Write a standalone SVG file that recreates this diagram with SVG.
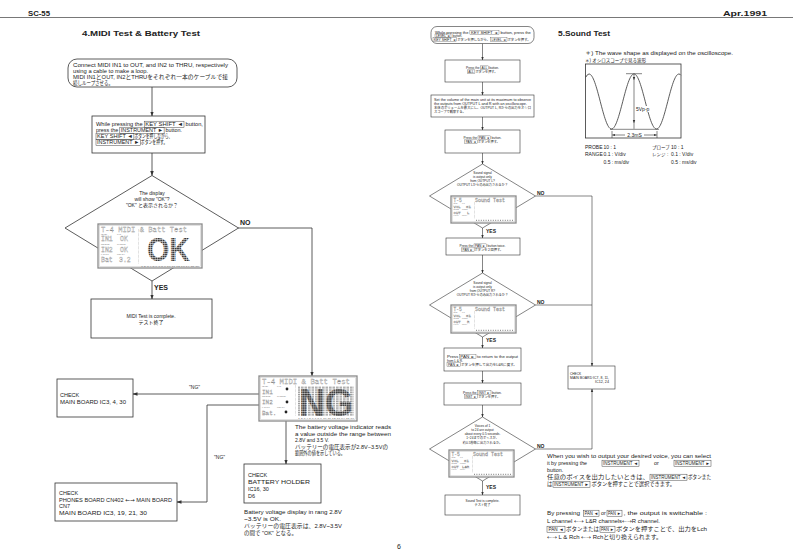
<svg xmlns="http://www.w3.org/2000/svg" width="793" height="560" viewBox="0 0 793 560">
<defs>
<style>
text{font-family:"Liberation Sans","Noto Sans CJK JP",sans-serif;fill:#222}
.f5{font-size:5px}
.f53{font-size:5.3px}
.f54{font-size:5.4px}
.f55{font-size:5.5px}
.f45{font-size:4.5px}
.f3{font-size:3.2px}
.b{font-weight:bold}
.c{text-anchor:middle}
.ar{font-family:"DejaVu Sans",sans-serif}
.box{fill:#fff;stroke:#333;stroke-width:0.8}
.boxS{fill:#fff;stroke:#333;stroke-width:0.6}
.bt{fill:none;stroke:#333;stroke-width:0.45}
.bts{fill:none;stroke:#333;stroke-width:0.3}
.ln{fill:none;stroke:#333;stroke-width:0.8}
.lnS{fill:none;stroke:#333;stroke-width:0.6}
.lcdo{fill:#fff;stroke:#8a8a8a;stroke-width:1.3}
.lcdi{fill:none;stroke:#c4c4c4;stroke-width:0.5}
.lt{font-family:"Liberation Mono",monospace;fill:#fff;stroke:#8a8a8a;stroke-width:0.28}
.ls{fill:#777}
.dot{fill:none;stroke:#888;stroke-width:0.5;stroke-dasharray:0.5 0.8}
.big{font-weight:bold;fill:url(#blk)}
.bigd{font-weight:bold;fill:url(#blkd)}
</style>
<marker id="ah" viewBox="0 0 10 10" refX="9" refY="5" markerWidth="5" markerHeight="5" markerUnits="userSpaceOnUse" orient="auto"><path d="M0,1.5 L10,5 L0,8.5 z" fill="#333"/></marker>
<marker id="as" viewBox="0 0 10 10" refX="9" refY="5" markerWidth="3.5" markerHeight="3.5" markerUnits="userSpaceOnUse" orient="auto"><path d="M0,1.5 L10,5 L0,8.5 z" fill="#333"/></marker>
<pattern id="blk" width="2.4" height="2" patternUnits="userSpaceOnUse"><rect width="2" height="1.5" fill="#3a3a3a"/></pattern>
<pattern id="blkd" width="2.2" height="1.8" patternUnits="userSpaceOnUse"><rect width="1.8" height="1.3" fill="#333"/></pattern>
<pattern id="blkl" width="3.5" height="1.8" patternUnits="userSpaceOnUse"><rect width="2.6" height="1.1" fill="#999"/></pattern>
</defs>
<rect width="793" height="560" fill="#fff"/>

<!-- header -->
<g id="header">
<text x="28" y="15.5" font-size="7" class="b" textLength="22" lengthAdjust="spacingAndGlyphs">SC-55</text>
<text x="723" y="15.5" font-size="7" class="b" textLength="44" lengthAdjust="spacingAndGlyphs">Apr.1991</text>
<line x1="0" y1="17.5" x2="793" y2="17.5" stroke="#555" stroke-width="0.8"/>
<text x="82" y="36" font-size="7.5" class="b" textLength="118" lengthAdjust="spacingAndGlyphs">4.MIDI  Test  &amp;  Battery  Test</text>
<text x="558" y="36" font-size="7.5" class="b" textLength="52" lengthAdjust="spacingAndGlyphs">5.Sound  Test</text>
<text x="397" y="549" font-size="7">6</text>
</g>

<!-- ===== connectors ===== -->
<g id="connectors">
<path class="ln" d="M152,87 V116" marker-end="url(#ah)"/>
<path class="ln" d="M152,153 V175.5" marker-end="url(#ah)"/>
<path class="ln" d="M152,281 V299" marker-end="url(#ah)"/>
<path class="ln" d="M238,228 H312 V376" marker-end="url(#ah)"/>
<path class="ln" d="M287,389 L279,394 H133" marker-end="url(#ah)"/>
<path class="ln" d="M287,402 L280,405 H207 V502 H177" marker-end="url(#ah)"/>
<path class="ln" d="M286,412 V464" marker-end="url(#ah)"/>
<path class="lnS" d="M482.5,43.5 V60" marker-end="url(#as)"/>
<path class="lnS" d="M482.5,82 V95" marker-end="url(#as)"/>
<path class="lnS" d="M482.5,117 V130" marker-end="url(#as)"/>
<path class="lnS" d="M482.5,153 V164" marker-end="url(#as)"/>
<path class="lnS" d="M482.5,228 V238" marker-end="url(#as)"/>
<path class="lnS" d="M482.5,255 V273" marker-end="url(#as)"/>
<path class="lnS" d="M482.5,337 V348" marker-end="url(#as)"/>
<path class="lnS" d="M482.5,371 V383" marker-end="url(#as)"/>
<path class="lnS" d="M482.5,405 V417" marker-end="url(#as)"/>
<path class="lnS" d="M482.5,481 V495" marker-end="url(#as)"/>
<path class="lnS" d="M535.5,196 H592 V366" marker-end="url(#as)"/>
<path class="lnS" d="M535.5,305 H592"/>
<path class="lnS" d="M535.5,449 H592 V389" marker-end="url(#as)"/>
<text x="240" y="225" font-size="7" class="b">NO</text>
<text x="154" y="290" font-size="7" class="b">YES</text>
<text x="189" y="389" class="f5">"NG"</text>
<text x="214" y="459" class="f5">"NG"</text>
<text x="537" y="194.5" font-size="5" class="b">NO</text>
<text x="486" y="232.5" font-size="5" class="b">YES</text>
<text x="537" y="303.5" font-size="5" class="b">NO</text>
<text x="486" y="341.5" font-size="5" class="b">YES</text>
<text x="537" y="447.5" font-size="5" class="b">NO</text>
<text x="486" y="488.5" font-size="5" class="b">YES</text>
</g>

<!-- ===== left page ===== -->
<g id="connect-loop">
<rect class="box" x="68" y="59" width="169" height="28" rx="9"/>
<text class="f53" x="73" y="67" textLength="155" lengthAdjust="spacingAndGlyphs">Connect MIDI IN1 to OUT, and IN2 to THRU, respectively</text>
<text class="f53" x="73" y="73" textLength="75" lengthAdjust="spacingAndGlyphs">using a cable to make a loop.</text>
<text class="f53" x="73" y="79" textLength="155" lengthAdjust="spacingAndGlyphs">MIDI IN1とOUT, IN2とTHRUをそれぞれ一本のケーブルで接</text>
<text class="f53" x="73" y="85" textLength="40" lengthAdjust="spacingAndGlyphs">続しループさせる。</text>
</g>

<g id="press-keyshift">
<rect class="box" x="92" y="116" width="113" height="37"/>
<text class="f54" x="96" y="126" textLength="46.7" lengthAdjust="spacingAndGlyphs">While pressing the</text>
<rect class="bt" x="144.2" y="121.2" width="39.8" height="6.2"/>
<text class="f54" x="145.2" y="126" textLength="37.8" lengthAdjust="spacingAndGlyphs">KEY SHIFT ◄</text>
<text class="f54" x="185.5" y="126" textLength="17.4" lengthAdjust="spacingAndGlyphs">button,</text>
<text class="f54" x="96" y="132">press the</text>
<rect class="bt" x="119.8" y="127.2" width="44.3" height="6.2"/>
<text class="f54" x="120.8" y="132" textLength="42.3" lengthAdjust="spacingAndGlyphs">INSTRUMENT ►</text>
<text class="f54" x="165.6" y="132">button.</text>
<rect class="bt" x="96" y="133.2" width="37.9" height="6.2"/>
<text class="f54" x="97" y="138" textLength="35.9" lengthAdjust="spacingAndGlyphs">KEY SHIFT ◄</text>
<text class="f54" x="134.4" y="138" textLength="38" lengthAdjust="spacingAndGlyphs">ボタンを押しながら、</text>
<rect class="bt" x="96" y="139.2" width="44.3" height="6.2"/>
<text class="f54" x="97" y="144" textLength="42.3" lengthAdjust="spacingAndGlyphs">INSTRUMENT ►</text>
<text class="f54" x="140.8" y="144" textLength="26.6" lengthAdjust="spacingAndGlyphs">ボタンを押す。</text>
</g>

<g id="decision-ok">
<polygon class="box" points="152,175.5 238.5,228 152,281 65,228"/>
<text class="f5 c" x="152" y="195">The display</text>
<text class="f5 c" x="152" y="201">will show  "OK"?</text>
<text class="f5 c" x="152" y="207">"OK" と表示されるか？</text>
<g id="lcd-ok" transform="translate(98,224)">
<rect class="lcdo" width="104" height="44"/>
<rect class="lcdi" x="1.6" y="1.6" width="100.8" height="40.8"/>
<text class="lt" x="3" y="8" font-size="7.5" textLength="86" lengthAdjust="spacingAndGlyphs">T-4 MIDI &amp; Batt Test</text>
<text class="ls" font-size="2" x="3" y="10.8">LEVEL</text><text class="ls" font-size="2" x="19" y="10.8">PAN</text>
<text class="lt" font-size="6.5" x="3" y="17">IN1</text><text class="lt" font-size="6.5" x="22" y="17">OK</text>
<text class="ls" font-size="2" x="3" y="20.5">REVERB</text><text class="ls" font-size="2" x="19" y="20.5">CHORUS</text>
<text class="lt" font-size="6.5" x="3" y="27.5">IN2</text><text class="lt" font-size="6.5" x="22" y="27.5">OK</text>
<text class="ls" font-size="2" x="3" y="31">K SHIFT</text><text class="ls" font-size="2" x="19" y="31">MIDI CH</text>
<text class="lt" font-size="6.5" x="3" y="38">Bat</text><text class="lt" font-size="6.5" x="21" y="38">3.2</text>
<line class="dot" x1="40.5" y1="5" x2="40.5" y2="40"/>
<text class="ls" font-size="2" x="43" y="42.6" textLength="58" lengthAdjust="spacingAndGlyphs">1 2 3 4 5 6 7 8 9 10 11 12 13 14 15 16</text>
<text class="big" x="49" y="37" font-size="33" textLength="43" lengthAdjust="spacingAndGlyphs">OK</text>
</g>
</g>

<g id="midi-complete">
<rect class="box" x="91" y="299" width="121" height="39"/>
<text class="f5 c" x="151" y="318">MIDI Test is complete.</text>
<text class="f5 c" x="151" y="324">テスト終了</text>
</g>

<g id="lcd-ng" transform="translate(259,376)">
<rect class="lcdo" width="98" height="45"/>
<rect class="lcdi" x="1.6" y="1.6" width="94.8" height="41.8"/>
<text class="lt" x="3" y="8" font-size="7" textLength="88" lengthAdjust="spacingAndGlyphs">T-4 MIDI &amp; Batt Test</text>
<text class="ls" font-size="2" x="3" y="11">LEVEL</text><text class="ls" font-size="2" x="18" y="11">PAN</text>
<text class="lt" font-size="6" x="3" y="17.5">IN1</text>
<text class="ls" font-size="2" x="3" y="21">REVERB</text><text class="ls" font-size="2" x="18" y="21">CHORUS</text>
<text class="lt" font-size="6" x="3" y="28">IN2</text>
<text class="ls" font-size="2" x="3" y="31.5">K SHIFT</text><text class="ls" font-size="2" x="18" y="31.5">MIDI CH</text>
<text class="lt" font-size="6" x="3" y="38.5">Bat.</text>
<line class="dot" x1="36.5" y1="9" x2="36.5" y2="40"/>
<rect x="39" y="10" width="56" height="30" fill="url(#blkl)"/>
<text class="bigd" x="40" y="39.5" font-size="38" textLength="54" lengthAdjust="spacingAndGlyphs">NG</text>
<text class="ls" font-size="2" x="39" y="43.2" textLength="56" lengthAdjust="spacingAndGlyphs">1 2 3 4 5 6 7 8 9 10 11 12 13 14 15 16</text>
<circle cx="28" cy="13" r="1.4" fill="#222"/>
<circle cx="28" cy="26" r="1.4" fill="#222"/>
<circle cx="27" cy="36" r="1.4" fill="#222"/>
</g>

<g id="check-main-ic3">
<rect class="box" x="57" y="379" width="76" height="38"/>
<text class="f55" x="60" y="397">CHECK</text>
<text class="f55" x="60" y="403.5" textLength="66" lengthAdjust="spacingAndGlyphs">MAIN BOARD IC3, 4, 30</text>
</g>

<g id="check-phones">
<rect class="box" x="55" y="483" width="122" height="38"/>
<text class="f55" x="59" y="495">CHECK</text>
<text class="f55" x="59" y="501.7" textLength="113" lengthAdjust="spacingAndGlyphs">PHONES BOARD CN402 <tspan class="ar">←→</tspan> MAIN BOARD</text>
<text class="f55" x="59" y="508.4">CN7</text>
<text class="f55" x="59" y="515" textLength="88" lengthAdjust="spacingAndGlyphs">MAIN BOARD IC3, 19, 21, 30</text>
</g>

<g id="check-battery">
<rect class="box" x="244" y="464" width="77" height="39"/>
<text class="f55" x="248" y="477">CHECK</text>
<text class="f55" x="248" y="484" textLength="62" lengthAdjust="spacingAndGlyphs">BATTERY HOLDER</text>
<text class="f55" x="248" y="491">IC16, 30</text>
<text class="f55" x="248" y="498">D6</text>
</g>

<g id="battery-notes">
<text class="f55" x="295" y="429" textLength="96" lengthAdjust="spacingAndGlyphs">The battery voltage indicator reads</text>
<text class="f55" x="295" y="435.5" textLength="96" lengthAdjust="spacingAndGlyphs">a value outside the range between</text>
<text class="f55" x="295" y="442" textLength="34" lengthAdjust="spacingAndGlyphs">2.8V and 3.5 V.</text>
<text class="f55" x="295" y="448.5" textLength="93" lengthAdjust="spacingAndGlyphs">バッテリーの電圧表示が2.8V−3.5Vの</text>
<text class="f55" x="295" y="455" textLength="50" lengthAdjust="spacingAndGlyphs">範囲外の値を示している。</text>
<text class="f55" x="244" y="514" textLength="98" lengthAdjust="spacingAndGlyphs">Battery voltage display in rang 2.8V</text>
<text class="f55" x="244" y="521" textLength="37" lengthAdjust="spacingAndGlyphs">~3.5V is OK.</text>
<text class="f55" x="244" y="528" textLength="98" lengthAdjust="spacingAndGlyphs">バッテリーの電圧表示は、2.8V~3.5V</text>
<text class="f55" x="244" y="534.5" textLength="53" lengthAdjust="spacingAndGlyphs">の間で "OK" となる。</text>
</g>

<!-- ===== right page flow ===== -->
<g id="r-keyshift-level">
<rect class="boxS" x="431" y="26.5" width="103" height="17" rx="6"/>
<text class="f3" x="435" y="33.5" textLength="33.4" lengthAdjust="spacingAndGlyphs">While pressing the</text>
<rect class="bts" x="469.9" y="30.4" width="29.1" height="3.8"/>
<text class="f3" x="470.9" y="33.5" textLength="27.1" lengthAdjust="spacingAndGlyphs">KEY SHIFT ◄</text>
<text class="f3" x="500.5" y="33.5" textLength="30.4" lengthAdjust="spacingAndGlyphs">button, press the</text>
<rect class="bts" x="435" y="34" width="16" height="3.8"/>
<text class="f3" x="436" y="37" textLength="14" lengthAdjust="spacingAndGlyphs">LEVEL ◄</text>
<text class="f3" x="452.5" y="37">button.</text>
<rect class="bts" x="433" y="37.6" width="23.8" height="3.8"/>
<text class="f3" x="434" y="40.7" textLength="21.8" lengthAdjust="spacingAndGlyphs">KEY SHIFT ◄</text>
<text class="f3" x="457.3" y="40.7" textLength="32.8" lengthAdjust="spacingAndGlyphs">ボタンを押しながら、</text>
<rect class="bts" x="490.6" y="37.6" width="16.4" height="3.8"/>
<text class="f3" x="491.6" y="40.7" textLength="14.4" lengthAdjust="spacingAndGlyphs">LEVEL ◄</text>
<text class="f3" x="507.5" y="40.7" textLength="23" lengthAdjust="spacingAndGlyphs">ボタンを押す。</text>
</g>

<g id="r-press-all">
<rect class="boxS" x="445" y="60" width="75" height="22"/>
<text class="f3" x="466" y="69">Press the</text>
<rect class="bts" x="480.5" y="65.9" width="7.7" height="3.8"/>
<text class="f3" x="481.5" y="69">ALL</text>
<text class="f3" x="489.2" y="69">button.</text>
<rect class="bts" x="467.2" y="69.9" width="7.7" height="3.8"/>
<text class="f3" x="468.2" y="73">ALL</text>
<text class="f3" x="475.4" y="73">ボタンを押す。</text>
</g>

<g id="r-set-volume">
<rect class="boxS" x="431" y="95" width="103" height="22"/>
<text class="f3" x="434" y="100.5" textLength="97" lengthAdjust="spacingAndGlyphs">Set the volume of the main unit at its maximum to observe</text>
<text class="f3" x="434" y="104.5" textLength="93" lengthAdjust="spacingAndGlyphs">the outputs from OUTPUT L and R with an oscilloscope.</text>
<text class="f3" x="434" y="108.5" textLength="97" lengthAdjust="spacingAndGlyphs">本体のボリュームを最大にし、OUTPUT L, Rからの出力をオシロ</text>
<text class="f3" x="434" y="112.7">スコープで観察する。</text>
</g>

<g id="r-press-pan-l">
<rect class="boxS" x="445" y="130" width="75" height="23"/>
<text class="f3" x="463.5" y="139">Press the</text>
<rect class="bts" x="478" y="135.9" width="12.6" height="3.8"/>
<text class="f3" x="479" y="139">PAN ◄</text>
<text class="f3" x="491.6" y="139">button.</text>
<rect class="bts" x="464.7" y="139.9" width="12.6" height="3.8"/>
<text class="f3" x="465.7" y="143">PAN ◄</text>
<text class="f3" x="477.8" y="143">ボタンを押す。</text>
</g>

<g id="r-decision-l">
<polygon class="boxS" points="482.5,164 535.5,196 482.5,228 429.5,196"/>
<text class="f3 c" x="482.5" y="174">Sound signal</text>
<text class="f3 c" x="482.5" y="178">is output only</text>
<text class="f3 c" x="482.5" y="182">from OUTPUT L?</text>
<text class="f3 c" x="482.5" y="186">OUTPUT Lからのみ出力されるか？</text>
<g transform="translate(451,196)">
<rect class="lcdo" width="65" height="27" stroke-width="1"/>
<rect class="lcdi" x="1.2" y="1.2" width="62.6" height="24.6"/>
<text class="lt" x="2.5" y="5.5" font-size="4.5" stroke-width="0.22">T-5</text>
<text class="lt" x="24" y="5.5" font-size="4.5" stroke-width="0.22" textLength="30" lengthAdjust="spacingAndGlyphs">Sound Test</text>
<text class="ls" font-size="1.3" x="2.5" y="7.6">LEVEL</text><text class="ls" font-size="1.3" x="11" y="7.6">PAN</text>
<text class="lt" font-size="4" stroke-width="0.22" x="2.5" y="11.5">VOL</text><text class="lt" font-size="4" stroke-width="0.22" x="15" y="11.5">01</text>
<text class="ls" font-size="1.3" x="2.5" y="13.8">REVERB</text><text class="ls" font-size="1.3" x="11" y="13.8">CHORUS</text>
<text class="lt" font-size="4" stroke-width="0.22" x="2.5" y="18">OUT</text><text class="lt" font-size="4" stroke-width="0.22" x="16" y="18">L</text>
<text class="ls" font-size="1.3" x="2.5" y="20.3">K SHIFT</text><text class="ls" font-size="1.3" x="11" y="20.3">MIDI CH</text>
<line class="dot" x1="23.5" y1="6" x2="23.5" y2="23"/>
<line x1="25" y1="24.3" x2="63" y2="24.3" stroke="#777" stroke-width="1" stroke-dasharray="1 1.4"/>
</g>
</g>

<g id="r-press-pan-r">
<rect class="boxS" x="446" y="238" width="74" height="17"/>
<text class="f3" x="459.5" y="247">Press the</text>
<rect class="bts" x="474" y="243.9" width="12.6" height="3.8"/>
<text class="f3" x="475" y="247">PAN ►</text>
<text class="f3" x="487.6" y="247">button twice.</text>
<rect class="bts" x="461.5" y="247.9" width="12.6" height="3.8"/>
<text class="f3" x="462.5" y="251">PAN ►</text>
<text class="f3" x="474.6" y="251">ボタンを２回押す。</text>
</g>

<g id="r-decision-r">
<polygon class="boxS" points="482.5,273 535.5,305 482.5,337 429.5,305"/>
<text class="f3 c" x="482.5" y="284">Sound signal</text>
<text class="f3 c" x="482.5" y="288">is output only</text>
<text class="f3 c" x="482.5" y="292">from OUTPUT R?</text>
<text class="f3 c" x="482.5" y="296">OUTPUT Rからのみ出力されるか？</text>
<g transform="translate(451,305)">
<rect class="lcdo" width="65" height="28" stroke-width="1"/>
<rect class="lcdi" x="1.2" y="1.2" width="62.6" height="25.6"/>
<text class="lt" x="2.5" y="5.5" font-size="4.5" stroke-width="0.22">T-5</text>
<text class="lt" x="24" y="5.5" font-size="4.5" stroke-width="0.22" textLength="30" lengthAdjust="spacingAndGlyphs">Sound Test</text>
<text class="ls" font-size="1.3" x="2.5" y="7.6">LEVEL</text><text class="ls" font-size="1.3" x="11" y="7.6">PAN</text>
<text class="lt" font-size="4" stroke-width="0.22" x="2.5" y="11.5">VOL</text><text class="lt" font-size="4" stroke-width="0.22" x="15" y="11.5">01</text>
<text class="ls" font-size="1.3" x="2.5" y="13.8">REVERB</text><text class="ls" font-size="1.3" x="11" y="13.8">CHORUS</text>
<text class="lt" font-size="4" stroke-width="0.22" x="2.5" y="18">OUT</text><text class="lt" font-size="4" stroke-width="0.22" x="16" y="18">R</text>
<text class="ls" font-size="1.3" x="2.5" y="20.3">K SHIFT</text><text class="ls" font-size="1.3" x="11" y="20.3">MIDI CH</text>
<line class="dot" x1="23.5" y1="6" x2="23.5" y2="24"/>
<line x1="25" y1="25.3" x2="63" y2="25.3" stroke="#777" stroke-width="1" stroke-dasharray="1 1.4"/>
</g>
</g>

<g id="r-return-lr">
<rect class="boxS" x="444" y="348" width="77" height="23"/>
<text class="f3" x="447" y="357.5" textLength="11.3" lengthAdjust="spacingAndGlyphs">Press</text>
<rect class="bts" x="459.3" y="354.4" width="16.7" height="3.8"/>
<text class="f3" x="460.3" y="357.5" textLength="14.7" lengthAdjust="spacingAndGlyphs">PAN ►</text>
<text class="f3" x="477" y="357.5" textLength="41" lengthAdjust="spacingAndGlyphs">to return to the output</text>
<text class="f3" x="447" y="361.5">from L &amp; R.</text>
<rect class="bts" x="447" y="362.4" width="13.6" height="3.8"/>
<text class="f3" x="448" y="365.5" textLength="11.6" lengthAdjust="spacingAndGlyphs">PAN ►</text>
<text class="f3" x="461.1" y="365.5" textLength="55.8" lengthAdjust="spacingAndGlyphs">ボタンを押して出力をL&amp;Rに戻す。</text>
</g>

<g id="r-press-inst">
<rect class="boxS" x="444" y="383" width="77" height="22"/>
<text class="f3" x="463.1" y="393.5">Press the</text>
<rect class="bts" x="477.6" y="390.4" width="13.4" height="3.8"/>
<text class="f3" x="478.6" y="393.5">INST ►</text>
<text class="f3" x="492" y="393.5">button.</text>
<rect class="bts" x="464.3" y="394.4" width="13.4" height="3.8"/>
<text class="f3" x="465.3" y="397.5">INST ►</text>
<text class="f3" x="478.2" y="397.5">ボタンを押す。</text>
</g>

<g id="r-decision-voices">
<polygon class="boxS" points="482.5,417 535.5,449 482.5,481 429.5,449"/>
<text class="f3 c" x="482.5" y="427">Voices of 1</text>
<text class="f3 c" x="482.5" y="431">to 24 are output</text>
<text class="f3 c" x="482.5" y="435.3">about every 0.5 seconds.</text>
<text class="f3 c" x="482.5" y="439.3">1~24までのボイスが、</text>
<text class="f3 c" x="482.5" y="443.5">約0.5秒毎に出力されるか。</text>
<g transform="translate(449,450)">
<rect class="lcdo" width="65" height="27" stroke-width="1"/>
<rect class="lcdi" x="1.2" y="1.2" width="62.6" height="24.6"/>
<text class="lt" x="2.5" y="5.5" font-size="4.5" stroke-width="0.22">T-5</text>
<text class="lt" x="24" y="5.5" font-size="4.5" stroke-width="0.22" textLength="30" lengthAdjust="spacingAndGlyphs">Sound Test</text>
<text class="ls" font-size="1.3" x="2.5" y="7.6">LEVEL</text><text class="ls" font-size="1.3" x="11" y="7.6">PAN</text>
<text class="lt" font-size="4" stroke-width="0.22" x="2.5" y="11.5">VOL</text><text class="lt" font-size="4" stroke-width="0.22" x="15" y="11.5">01</text>
<text class="ls" font-size="1.3" x="2.5" y="13.8">REVERB</text><text class="ls" font-size="1.3" x="11" y="13.8">CHORUS</text>
<text class="lt" font-size="4" stroke-width="0.22" x="2.5" y="18">OUT</text><text class="lt" font-size="4" stroke-width="0.22" x="13" y="18">L&amp;R</text>
<text class="ls" font-size="1.3" x="2.5" y="20.3">K SHIFT</text><text class="ls" font-size="1.3" x="11" y="20.3">MIDI CH</text>
<line class="dot" x1="23.5" y1="6" x2="23.5" y2="23"/>
<line x1="25" y1="24.3" x2="63" y2="24.3" stroke="#777" stroke-width="1" stroke-dasharray="1 1.4"/>
</g>
</g>

<g id="r-sound-complete">
<rect class="boxS" x="445" y="495" width="75" height="20"/>
<text class="f3 c" x="482.5" y="502">Sound Test is complete.</text>
<text class="f3 c" x="482.5" y="506">テスト終了</text>
</g>

<g id="r-check-main">
<rect class="boxS" x="568" y="366" width="47" height="23"/>
<text class="f3" x="570" y="375">CHECK</text>
<text class="f3" x="570" y="379" textLength="39" lengthAdjust="spacingAndGlyphs">MAIN BOARD IC7, 8, 11,</text>
<text class="f3" x="595" y="383" textLength="14" lengthAdjust="spacingAndGlyphs">IC12, 24</text>
</g>

<!-- ===== oscilloscope ===== -->
<g id="scope">
<text class="f53" x="585" y="54.5" textLength="148" lengthAdjust="spacingAndGlyphs">＊) The wave shape as displayed on the oscilloscope.</text>
<text class="f45" x="585" y="61.5">＊) オシロスコープで見る波形</text>
<rect x="585.5" y="64" width="95.5" height="74" fill="none" stroke="#333" stroke-width="0.8"/>
<path fill="none" stroke="#333" stroke-width="0.8" d="M585.8,77.2 Q587.3,74 589,74 C593.07,74 596.58,87.41 600.25,101.5 S607.43,129 611.5,129 S619.08,115.59 622.75,101.5 S629.93,74 634,74 S641.58,87.41 645.25,101.5 S652.43,129 656.5,129 S664.08,115.59 667.75,101.5 S674.93,74 679,74 Q680,74 680.8,75.2"/>
<line x1="626" y1="73.7" x2="642" y2="73.7" stroke="#333" stroke-width="0.6"/>
<line x1="610" y1="129.3" x2="659" y2="129.3" stroke="#333" stroke-width="0.6"/>
<line x1="634" y1="80" x2="634" y2="123" stroke="#333" stroke-width="0.6" marker-start="url(#as)" marker-end="url(#as)"/>
<path d="M634,74.5 V80 M634,123 V128.8" stroke="#333" stroke-width="0.6"/>
<rect x="635.5" y="106" width="14" height="6" fill="#fff"/>
<text class="f5" x="636" y="111">5Vp-p</text>
<path d="M612,131 V138 M657,131 V138" stroke="#333" stroke-width="0.6"/>
<line x1="625" y1="135" x2="612.3" y2="135" stroke="#333" stroke-width="0.6" marker-end="url(#as)"/>
<line x1="644" y1="135" x2="656.7" y2="135" stroke="#333" stroke-width="0.6" marker-end="url(#as)"/>
<text class="f5 c" x="634.5" y="137">2.3mS</text>
<text class="f5" x="585" y="148.5">PROBE</text><text class="f5" x="603.5" y="148.5">10 : 1</text>
<text class="f5" x="585" y="156">RANGE</text><text class="f5" x="603.5" y="156">0.1 : V/div</text>
<text class="f5" x="603.5" y="164">0.5 : ms/div</text>
<text class="f45" x="652" y="148.5">プローブ</text><text class="f5" x="671" y="148.5">10 : 1</text>
<text class="f45" x="652" y="156">レンジ</text><text class="f5" x="667" y="156">:</text><text class="f5" x="671" y="156">0.1 : V/div</text>
<text class="f5" x="671" y="164">0.5 : ms/div</text>
</g>

<!-- ===== notes lower right ===== -->
<g id="notes">
<text class="f53" x="547" y="458" textLength="164" lengthAdjust="spacingAndGlyphs">When you wish to output your desired voice, you can select</text>
<text class="f53" x="547" y="465">it by pressing the</text>
<rect class="bt" x="602" y="460.2" width="37" height="6"/>
<text class="f45" x="603" y="464.8" textLength="35" lengthAdjust="spacingAndGlyphs">INSTRUMENT ◄</text>
<text class="f53" x="654" y="465">or</text>
<rect class="bt" x="674" y="460.2" width="37" height="6"/>
<text class="f45" x="675" y="464.8" textLength="35" lengthAdjust="spacingAndGlyphs">INSTRUMENT ►</text>
<text class="f53" x="547" y="472">button.</text>
<text class="f53" x="547" y="479" textLength="102" lengthAdjust="spacingAndGlyphs">任意のボイスを出力したいときは、</text>
<rect class="bt" x="650" y="474.2" width="37" height="6"/>
<text class="f45" x="651" y="478.8" textLength="35" lengthAdjust="spacingAndGlyphs">INSTRUMENT ◄</text>
<text class="f53" x="688" y="479" textLength="23" lengthAdjust="spacingAndGlyphs">ボタンまた</text>
<text class="f53" x="547" y="486">は</text>
<rect class="bt" x="553" y="481.2" width="37" height="6"/>
<text class="f45" x="554" y="485.8" textLength="35" lengthAdjust="spacingAndGlyphs">INSTRUMENT ►</text>
<text class="f53" x="591.5" y="486" textLength="83.5" lengthAdjust="spacingAndGlyphs">ボタンを押すことで選択できます。</text>
<text class="f53" x="547" y="515" textLength="33" lengthAdjust="spacingAndGlyphs">By pressing</text>
<rect class="bt" x="583.5" y="510.2" width="15.5" height="6"/>
<text class="f45" x="584.5" y="514.8" textLength="13.5" lengthAdjust="spacingAndGlyphs">PAN ◄</text>
<text class="f53" x="601" y="515">or</text>
<rect class="bt" x="607" y="510.2" width="15" height="6"/>
<text class="f45" x="608" y="514.8" textLength="13" lengthAdjust="spacingAndGlyphs">PAN ►</text>
<text class="f53" x="623.5" y="515" textLength="83.5" lengthAdjust="spacingAndGlyphs">, the output is switchable :</text>
<text class="f53" x="547" y="523" textLength="113" lengthAdjust="spacingAndGlyphs">L channel <tspan class="ar">←→</tspan> L&amp;R channels<tspan class="ar">←→</tspan>R channel.</text>
<rect class="bt" x="547" y="526.2" width="18" height="6"/>
<text class="f45" x="548.5" y="530.8" textLength="15" lengthAdjust="spacingAndGlyphs">PAN ◄</text>
<text class="f53" x="566" y="531" textLength="33" lengthAdjust="spacingAndGlyphs">ボタンまたは</text>
<rect class="bt" x="600" y="526.2" width="15" height="6"/>
<text class="f45" x="601" y="530.8" textLength="13" lengthAdjust="spacingAndGlyphs">PAN ►</text>
<text class="f53" x="616" y="531" textLength="91" lengthAdjust="spacingAndGlyphs">ボタンを押すことで、出力をLch</text>
<text class="f53" x="547" y="539" textLength="115" lengthAdjust="spacingAndGlyphs"><tspan class="ar">←→</tspan> L &amp; Rch <tspan class="ar">←→</tspan> Rchと切り換えられます。</text>
</g>
</svg>
